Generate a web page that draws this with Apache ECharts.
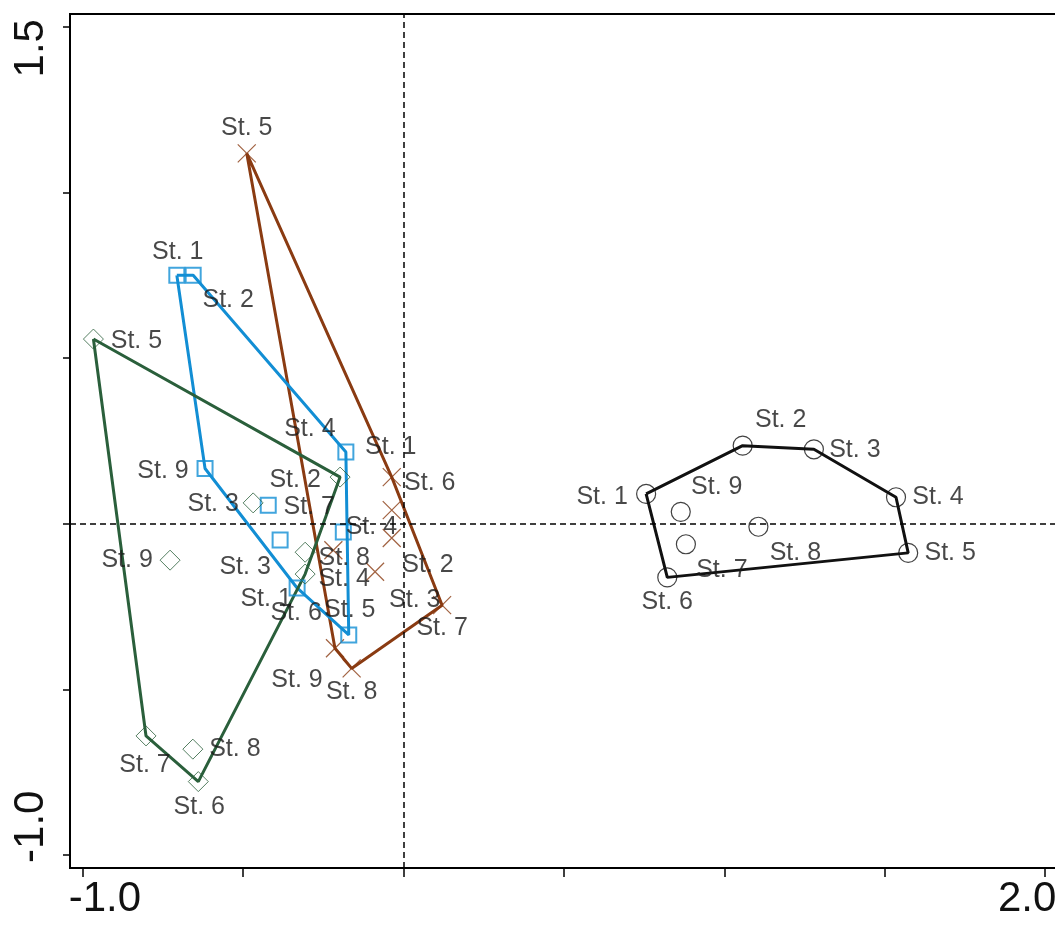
<!DOCTYPE html>
<html>
<head>
<meta charset="utf-8">
<script src="https://cdn.jsdelivr.net/npm/echarts@6/dist/echarts.min.js"></script>
<style>
html, body { margin: 0; padding: 0; background: #fff; }
#chart { width: 1055px; height: 929px; }
</style>
</head>
<body>
<div id="chart"></div>
<script>
// station names (same for every group)
const stations = ['St. 1', 'St. 2', 'St. 3', 'St. 4', 'St. 5', 'St. 6', 'St. 7', 'St. 8', 'St. 9'];

// brown group (x)
const brownX = [-0.037, -0.089, -0.037, -0.219, -0.489, -0.037, 0.120, -0.162, -0.214];
const brownY = [0.041, -0.145, -0.043, -0.080, 1.119, 0.141, -0.246, -0.437, -0.376];
const brownHull = [4, 5, 6, 7, 8];

// blue group (squares)
const blueX = [-0.707, -0.656, -0.385, -0.180, -0.171, -0.332, -0.422, -0.188, -0.619];
const blueY = [0.751, 0.751, -0.049, 0.217, -0.336, -0.194, 0.056, -0.025, 0.167];
const blueHull = [0, 1, 3, 4, 5, 8];

// green group (diamonds)
const greenX = [-0.307, -0.198, -0.469, -0.307, -0.967, -0.640, -0.803, -0.657, -0.728];
const greenY = [-0.086, 0.141, 0.063, -0.152, 0.558, -0.779, -0.641, -0.681, -0.110];
const greenHull = [4, 1, 3, 5, 6];

// black group (circles)
const blackX = [0.756, 1.057, 1.279, 1.535, 1.573, 0.822, 0.880, 1.106, 0.864];
const blackY = [0.090, 0.236, 0.225, 0.080, -0.088, -0.162, -0.062, -0.009, 0.036];
const blackHull = [0, 1, 2, 3, 4, 5];

// axis ticks / labels
const xTicks = [-1, -0.5, 0, 0.5, 1, 1.5, 2];
const yTicks = [-1, -0.5, 0, 0.5, 1, 1.5];
const xLabelValues = [-1, 2];
const xLabelText = ['-1.0', '2.0'];
const yLabelValues = [-1, 1.5];
const yLabelText = ['-1.0', '1.5'];

// label offsets in px (label centre relative to the point), moved by hand like the original
const brownLabelOff = [[-1,-63],[53,-7],[23,62],[38,-23],[0,-25],[38,6],[0,23],[0,24],[-38,32]];
const blueLabelOff  = [[1,-23],[35,25],[-35,27],[-36,-23],[1,-25],[-1,25],[41,2],[1,26],[-42,3]];
const greenLabelOff = [[-39,47],[-45,3],[-40,1],[39,5],[43,2],[1,26],[-1,29],[42,0],[-43,0]];
const blackLabelOff = [[-44,3],[38,-26],[41,1],[42,0],[42,0],[0,25],[36,26],[37,26],[36,-25]];

const FONT = '"Liberation Sans", Arial, sans-serif';

function pointSeries(xs, ys, offs, symbol, size, color, bw) {
    return {
        type: 'scatter',
        symbol: symbol,
        symbolSize: size,
        itemStyle: { color: 'transparent', borderColor: color, borderWidth: bw },
        label: {
            show: true,
            position: 'inside',
            formatter: '{b}',
            fontFamily: FONT,
            fontSize: 25,
            color: '#1a1a1a'
        },
        emphasis: { disabled: true },
        z: 3,
        data: xs.map((x, i) => ({
            name: stations[i],
            value: [x, ys[i]],
            label: { offset: offs[i] }
        }))
    };
}

function hullSeries(xs, ys, hull, color) {
    const pts = hull.map(i => [xs[i], ys[i]]);
    pts.push(pts[0]);
    return {
        type: 'line',
        data: pts,
        showSymbol: false,
        symbol: 'none',
        silent: true,
        z: 2,
        lineStyle: { color: color, width: 3 }
    };
}

const BROWN = '#8a3b12';
const BLUE = '#128ed4';
const GREEN = '#2a5f3b';
const BLACK = '#111111';

const chart = echarts.init(document.getElementById('chart'));
chart.setOption({
    backgroundColor: '#fff',
    animation: false,
    grid: {
        left: 70, width: 988, top: 14, height: 854,
        outerBoundsMode: 'none',
        show: true, borderColor: '#000', borderWidth: 2, backgroundColor: 'transparent'
    },
    xAxis: {
        type: 'value',
        min: -1.04, max: 2.04,
        splitLine: { show: false },
        axisLine: { onZero: false, lineStyle: { color: '#000', width: 2 } },
        axisTick: { customValues: xTicks, length: 9, lineStyle: { color: '#000', width: 1.5 } },
        axisLabel: {
            customValues: xLabelValues,
            margin: 10,
            formatter: v => v === xLabelValues[0] ? '{lo|' + xLabelText[0] + '}' : '{hi|' + xLabelText[1] + '}',
            rich: {
                lo: { fontFamily: FONT, fontSize: 42, color: '#111', padding: [0, 0, 0, 44] },
                hi: { fontFamily: FONT, fontSize: 42, color: '#111', padding: [0, 36, 0, 0] }
            }
        }
    },
    yAxis: {
        type: 'value',
        min: -1.04, max: 1.54,
        splitLine: { show: false },
        axisLine: { onZero: false, lineStyle: { color: '#000', width: 2 } },
        axisTick: { customValues: yTicks, length: 7, lineStyle: { color: '#000', width: 1.5 } },
        axisLabel: {
            customValues: yLabelValues,
            rotate: 90,
            margin: 18,
            formatter: v => v === yLabelValues[0] ? '{lo|' + yLabelText[0] + '}' : '{hi|' + yLabelText[1] + '}',
            rich: {
                lo: { fontFamily: FONT, fontSize: 42, color: '#111', padding: [0, 0, 0, 56] },
                hi: { fontFamily: FONT, fontSize: 42, color: '#111', padding: [0, 42, 0, 0] }
            }
        }
    },
    series: [
        Object.assign(hullSeries(brownX, brownY, brownHull, BROWN), {
            markLine: {
                silent: true,
                symbol: 'none',
                label: { show: false },
                lineStyle: { color: '#000', type: [6, 4], width: 1.5 },
                data: [{ xAxis: 0 }, { yAxis: 0 }]
            }
        }),
        hullSeries(blueX, blueY, blueHull, BLUE),
        hullSeries(greenX, greenY, greenHull, GREEN),
        hullSeries(blackX, blackY, blackHull, BLACK),
        pointSeries(brownX, brownY, brownLabelOff, 'path://M0,0L20,20M20,0L0,20', 18, '#8a3b12', 1.2),
        pointSeries(blueX, blueY, blueLabelOff, 'rect', 15, BLUE, 2),
        pointSeries(greenX, greenY, greenLabelOff, 'diamond', 20, GREEN, 1),
        pointSeries(blackX, blackY, blackLabelOff, 'circle', 19, BLACK, 1.2)
    ]
});
</script>
</body>
</html>
